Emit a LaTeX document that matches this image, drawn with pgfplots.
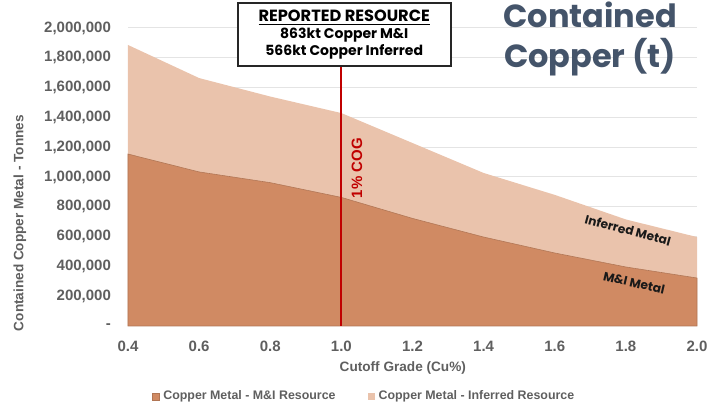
\documentclass[border=0pt]{standalone}
\usepackage{pgfplots}
\pgfplotsset{compat=1.18}
\usepackage{fontspec}
\setmainfont{Liberation Sans}
\newfontfamily\poppins{Poppins}
\definecolor{midark}{HTML}{D08A63}
\definecolor{inflight}{HTML}{EAC3AC}
\definecolor{tickgray}{HTML}{5F5F5F}
\definecolor{titleblue}{HTML}{44546A}
\definecolor{cogred}{HTML}{C00000}
\definecolor{gridgray}{HTML}{E4E4E4}
\begin{document}
\begin{tikzpicture}
\path[use as bounding box] (-64pt,-40pt) rectangle (289.5pt,163pt);
\begin{axis}[
  scale only axis,
  width=284.5pt, height=149pt,
  xmin=0.4, xmax=2.0, ymin=0, ymax=2000000,
  stack plots=y,
  axis line style={draw=none},
  axis x line*=bottom,
  ymajorgrids, grid style={gridgray, line width=0.5pt},
  xtick={0.4,0.6,0.8,1.0,1.2,1.4,1.6,1.8,2.0},
  xticklabels={0.4,0.6,0.8,1.0,1.2,1.4,1.6,1.8,2.0},
  ytick={0,200000,400000,600000,800000,1000000,1200000,1400000,1600000,1800000,2000000},
  yticklabels={{-},{200,000},{400,000},{600,000},{800,000},{1,000,000},{1,200,000},{1,400,000},{1,600,000},{1,800,000},{2,000,000}},
  tick style={draw=none},
  scaled y ticks=false,
  tick label style={font=\fontsize{7.5}{9}\selectfont\bfseries, text=tickgray},
  yticklabel style={xshift=-5pt},
  xticklabel style={yshift=-4pt},
  xlabel={Cutoff Grade (Cu\%)},
  ylabel={Contained Copper Metal - Tonnes},
  xlabel style={font=\fontsize{6.8}{8}\selectfont\bfseries, text=tickgray, at={(axis description cs:0.483,-0.141)}, anchor=center},
  ylabel style={font=\fontsize{6.8}{8}\selectfont\bfseries, text=tickgray, at={(axis description cs:-0.19,0.345)}, anchor=center, rotate=0},
  legend columns=2,
  legend style={draw=none, fill=none, at={(axis description cs:0.4165,-0.237)}, anchor=center,
    font=\fontsize{6.2}{7.5}\selectfont\bfseries, text=tickgray,
    /tikz/every even column/.append style={column sep=14pt}},
  legend image code/.code={\fill[#1] (0pt,-1.75pt) rectangle (3.5pt,1.75pt);},
  clip=false,
]
\addplot[fill=midark, draw=midark!85!black, line width=0.3pt] coordinates {
(0.4,1154000) (0.6,1034000) (0.8,962000) (1.0,863000) (1.2,722000) (1.4,597000) (1.6,490000) (1.8,396000) (2.0,322000)
} \closedcycle;
\addlegendentry{Copper Metal - M\&I Resource}
\addplot[fill=inflight, draw=none] coordinates {
(0.4,732000) (0.6,630000) (0.8,578000) (1.0,566000) (1.2,506000) (1.4,430000) (1.6,390000) (1.8,319000) (2.0,275000)
} \closedcycle;
\addlegendentry{Copper Metal - Inferred Resource}
\coordinate (cogA) at (axis cs:1.0,0);
\coordinate (cogB) at (axis cs:1.0,1745000);
\coordinate (cogT) at (axis cs:1.044,1060000);
\coordinate (boxC) at (axis description cs:0.380,0.978);
\coordinate (ttlC) at (axis description cs:0.812,0.962);
\coordinate (infL) at (axis cs:1.806,644000);
\coordinate (miL) at (axis cs:1.823,289000);
\end{axis}
\draw[cogred, line width=1pt] (cogA) -- (cogB);
\node[rotate=90, text=cogred, font=\fontsize{7.5}{8}\selectfont\bfseries] at (cogT) {1\% COG};
\node[draw=black!85, line width=0.8pt, fill=white, minimum width=106.5pt, minimum height=31.5pt, align=center, inner sep=1pt,
  font=\poppins\bfseries\fontsize{7}{8.5}\selectfont]
  at (boxC) {\fontsize{8.1}{8.5}\selectfont\underline{REPORTED RESOURCE}\\863kt Copper M\&I\\566kt Copper Inferred};
\node[align=center, text=titleblue, font=\poppins\bfseries\fontsize{16}{20}\selectfont]
  at (ttlC) {Contained\\Copper (t)};
\node[rotate=-15, font=\poppins\bfseries\fontsize{6.1}{7}\selectfont, text=black!90] at (infL) {Inferred Metal};
\node[rotate=-13, font=\poppins\bfseries\fontsize{6.1}{7}\selectfont, text=black!90] at (miL) {M\&I Metal};
\end{tikzpicture}
\end{document}
